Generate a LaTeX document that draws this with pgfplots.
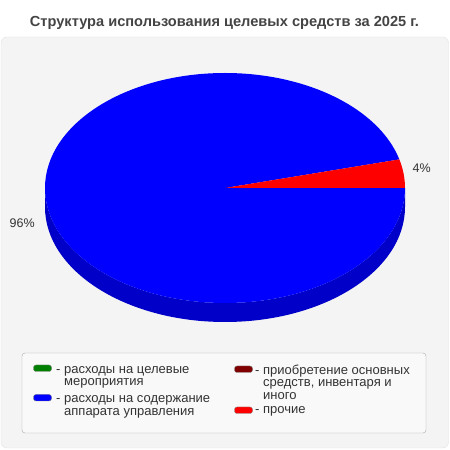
\documentclass[border=0pt]{standalone}
\usepackage{fontspec}
\setmainfont{Liberation Sans}
\usepackage{pgfplots}
\usepackage{pgfplotstable}
\usetikzlibrary{calc}
\pgfplotsset{compat=1.18}

\definecolor{panelfill}{HTML}{F4F4F4}
\definecolor{panelline}{HTML}{E2E2E2}
\definecolor{legfill}{HTML}{F9F9F9}
\definecolor{legline}{HTML}{A8A8A8}
\definecolor{txt}{HTML}{333333}
\definecolor{ttl}{HTML}{444444}
\definecolor{cGreen}{HTML}{008000}
\definecolor{cBlue}{HTML}{0000FF}
\definecolor{cBlueSide}{HTML}{0000C8}
\definecolor{cDarkRed}{HTML}{800000}
\definecolor{cRed}{HTML}{FF0000}

% shares, percent
\pgfplotstableread{
item value
green 0
blue 96
darkred 0
red 4
}\piedata

\begin{document}
\begin{tikzpicture}
\pgfplotstablegetelem{1}{value}\of\piedata \let\vBlue\pgfplotsretval
\pgfplotstablegetelem{3}{value}\of\piedata \let\vRed\pgfplotsretval
% slices go clockwise from 0 degrees
\pgfmathsetmacro\aBlue{-3.6*\vBlue}
\pgfmathsetmacro\aRed{\aBlue-3.6*\vRed}
\begin{axis}[
    scale only axis,
    width=450pt, height=450pt,
    xmin=0, xmax=450, ymin=0, ymax=450,
    hide axis, clip=false,
]
\path (axis cs:0,0) rectangle (axis cs:450,450);
% panel
\draw[fill=panelfill, draw=panelline, rounded corners=6pt] (axis cs:1,2) rectangle (axis cs:448.5,413);
% title
\node[anchor=base, inner sep=0pt, font=\fontsize{14.6}{16}\selectfont\bfseries, text=ttl] at (axis cs:224.5,423.5)
  {Структура использования целевых средств за 2025 г.};
% pie side
\fill[cBlueSide] (axis cs:45,262) -- (axis cs:45,243)
  arc[start angle=180, end angle=360, x radius=180pt, y radius=115pt]
  -- (axis cs:405,262)
  arc[start angle=0, end angle=-180, x radius=180pt, y radius=115pt] -- cycle;
% pie top
\fill[cBlue] (axis cs:225,262) -- (axis cs:405,262)
  arc[start angle=0, end angle=\aBlue, x radius=180pt, y radius=115pt] -- cycle;
\fill[cRed] (axis cs:225,262) -- ($(axis cs:225,262)+(\aBlue:180pt and 115pt)$)
  arc[start angle=\aBlue, end angle=\aRed, x radius=180pt, y radius=115pt] -- cycle;
% labels
\begin{scope}[every node/.append style={anchor=west, inner sep=0pt, text=txt,
    text height=8.9pt, text depth=0pt, font=\fontsize{12.5}{14}\selectfont}]
\node at (axis cs:412.5,281.5) {4\%};
\node at (axis cs:9.5,226.5) {96\%};
\end{scope}
% legend
\draw[fill=legfill, draw=legline, rounded corners=3pt] (axis cs:22,17) rectangle (axis cs:426,97);
\begin{scope}[every node/.append style={anchor=west, inner sep=0pt, text=txt,
    text height=6.75pt, text depth=0pt, font=\fontsize{13}{15}\selectfont}]
\draw[fill=cGreen, draw=gray, rounded corners=2.5pt] (axis cs:33.5,78.5) rectangle (axis cs:51.5,85);
\node at (axis cs:56,80) {- расходы на целевые};
\node at (axis cs:64,68) {мероприятия};
\draw[fill=cBlue, draw=gray, rounded corners=2.5pt] (axis cs:33.5,49) rectangle (axis cs:51.5,55.5);
\node at (axis cs:56,51) {- расходы на содержание};
\node at (axis cs:64,38) {аппарата управления};
\draw[fill=cDarkRed, draw=gray, rounded corners=2.5pt] (axis cs:234.5,77.5) rectangle (axis cs:252.5,84);
\node at (axis cs:255,79) {- приобретение основных};
\node at (axis cs:263,66.5) {средств, инвентаря и};
\node at (axis cs:263,54) {иного};
\draw[fill=cRed, draw=gray, rounded corners=2.5pt] (axis cs:234.5,36.5) rectangle (axis cs:252.5,43);
\node at (axis cs:255,39.5) {- прочие};
\end{scope}
\end{axis}
\end{tikzpicture}
\end{document}
